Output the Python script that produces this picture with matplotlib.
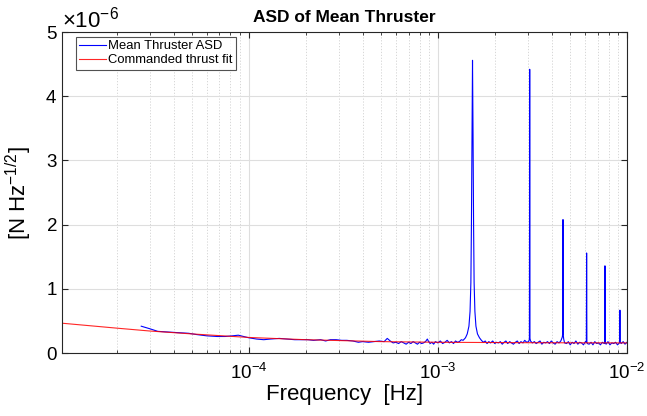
import numpy as np
import matplotlib
matplotlib.use("Agg")
import matplotlib.pyplot as plt
from matplotlib.ticker import LogLocator, NullFormatter, FixedLocator, ScalarFormatter

plt.rcParams['font.family'] = ['Liberation Sans', 'DejaVu Sans']
plt.rcParams['mathtext.fontset'] = 'custom'
plt.rcParams['mathtext.rm'] = 'Liberation Sans'
plt.rcParams['mathtext.it'] = 'Liberation Sans:italic'

# ---- data (ASD in units of 1e-6 N/sqrt(Hz)) ----
low_f = [2.7e-5, 3.0e-5, 3.3e-5, 3.7e-5, 4.2e-5, 4.8e-5, 5.3e-5, 6.0e-5, 6.8e-5, 7.5e-5,
         8.2e-5, 8.8e-5, 9.4e-5, 1.0e-4, 1.1e-4, 1.2e-4, 1.3e-4, 1.45e-4, 1.6e-4, 1.75e-4,
         1.9e-4, 2.05e-4, 2.2e-4, 2.4e-4, 2.55e-4, 2.7e-4, 2.9e-4, 3.1e-4, 3.3e-4, 3.55e-4,
         3.8e-4, 4.0e-4, 4.3e-4, 4.6e-4, 4.9e-4, 5.2e-4, 5.4e-4, 5.6e-4, 5.8e-4]
low_asd = [0.42, 0.38, 0.34, 0.33, 0.32, 0.31, 0.29, 0.27, 0.26, 0.26,
           0.27, 0.28, 0.26, 0.24, 0.22, 0.21, 0.22, 0.23, 0.22, 0.21,
           0.21, 0.21, 0.20, 0.21, 0.19, 0.21, 0.21, 0.20, 0.20, 0.19,
           0.17, 0.18, 0.17, 0.18, 0.19, 0.18, 0.23, 0.19, 0.16]

mid_f = [6.0e-4, 6.2e-4, 6.4e-4, 6.6e-4, 6.8e-4, 7.0e-4, 7.2e-4, 7.4e-4, 7.6e-4, 7.8e-4,
         8.0e-4, 8.2e-4, 8.4e-4, 8.6e-4, 8.8e-4, 8.9e-4, 9.1e-4, 9.3e-4, 9.5e-4, 9.7e-4,
         1.0e-3, 1.03e-3, 1.06e-3, 1.09e-3, 1.12e-3, 1.15e-3, 1.18e-3, 1.21e-3, 1.24e-3, 1.27e-3,
         1.30e-3, 1.33e-3]
mid_asd = [0.17, 0.15, 0.18, 0.16, 0.14, 0.17, 0.15, 0.18, 0.16, 0.14,
           0.17, 0.15, 0.16, 0.18, 0.22, 0.19, 0.15, 0.17, 0.14, 0.18,
           0.16, 0.19, 0.15, 0.17, 0.20, 0.16, 0.18, 0.15, 0.19, 0.17,
           0.18, 0.21]

peak1_f = [1.36e-3, 1.40e-3, 1.43e-3, 1.46e-3, 1.48e-3, 1.495e-3, 1.505e-3, 1.515e-3,
           1.525e-3, 1.535e-3, 1.545e-3, 1.555e-3, 1.57e-3, 1.59e-3, 1.62e-3, 1.66e-3]
peak1_asd = [0.20, 0.24, 0.30, 0.42, 0.65, 1.10, 2.00, 3.40,
             4.56, 3.40, 2.00, 1.10, 0.65, 0.42, 0.30, 0.24]

high_f = [1.70e-3, 1.74e-3, 1.78e-3, 1.82e-3, 1.86e-3, 1.90e-3, 1.95e-3, 2.00e-3, 2.04e-3, 2.09e-3,
          2.14e-3, 2.19e-3, 2.24e-3, 2.29e-3, 2.34e-3, 2.40e-3, 2.45e-3, 2.51e-3, 2.57e-3, 2.63e-3,
          2.69e-3, 2.75e-3, 2.82e-3, 2.88e-3, 2.95e-3, 3.02e-3, 3.05e-3, 3.07e-3, 3.09e-3, 3.16e-3,
          3.24e-3, 3.31e-3, 3.39e-3, 3.47e-3, 3.55e-3, 3.63e-3, 3.72e-3, 3.80e-3, 3.89e-3, 3.98e-3,
          4.07e-3, 4.17e-3, 4.27e-3, 4.37e-3, 4.47e-3, 4.55e-3, 4.575e-3, 4.605e-3, 4.63e-3, 4.68e-3,
          4.79e-3, 4.90e-3, 5.01e-3, 5.13e-3, 5.25e-3, 5.37e-3, 5.50e-3, 5.62e-3, 5.75e-3, 5.89e-3,
          6.03e-3, 6.10e-3, 6.14e-3, 6.17e-3, 6.31e-3, 6.46e-3, 6.61e-3, 6.76e-3, 6.92e-3, 7.08e-3,
          7.24e-3, 7.41e-3, 7.59e-3, 7.63e-3, 7.67e-3, 7.76e-3, 7.94e-3, 8.13e-3, 8.32e-3, 8.51e-3,
          8.71e-3, 8.91e-3, 9.12e-3, 9.16e-3, 9.20e-3, 9.33e-3, 9.55e-3, 9.77e-3, 1.0e-2]
high_asd = [0.20, 0.17, 0.19, 0.15, 0.18, 0.16, 0.19, 0.15, 0.17, 0.16,
            0.18, 0.14, 0.17, 0.19, 0.15, 0.18, 0.16, 0.14, 0.17, 0.19,
            0.15, 0.18, 0.16, 0.20, 0.17, 0.18, 0.22, 0.23, 0.19, 0.16,
            0.18, 0.15, 0.17, 0.19, 0.14, 0.17, 0.16, 0.18, 0.15, 0.19,
            0.16, 0.14, 0.18, 0.16, 0.19, 0.25, 0.30, 0.28, 0.22, 0.16,
            0.15, 0.18, 0.13, 0.17, 0.15, 0.19, 0.14, 0.17, 0.16, 0.13,
            0.18, 0.17, 0.18, 0.15, 0.14, 0.17, 0.13, 0.18, 0.15, 0.16,
            0.13, 0.17, 0.15, 0.17, 0.16, 0.14, 0.18, 0.13, 0.16, 0.15,
            0.17, 0.13, 0.16, 0.18, 0.17, 0.15, 0.18, 0.14, 0.17]

# sharp harmonic lines
lines_f = [3.06e-3, 4.59e-3, 6.12e-3, 7.65e-3, 9.18e-3]
lines_asd = [4.42, 2.08, 1.56, 1.36, 0.67]

# commanded thrust fit
fit_f = [1.0e-5, 2.0e-5, 3.0e-5, 5.0e-5, 1.0e-4, 2.0e-4, 5.0e-4, 1.0e-3, 3.0e-3, 1.0e-2]
fit_asd = [0.47, 0.39, 0.345, 0.30, 0.245, 0.21, 0.18, 0.17, 0.163, 0.16]

# ---- assemble ----
f_all = np.array(low_f + mid_f + peak1_f + high_f + lines_f)
a_all = np.array(low_asd + mid_asd + peak1_asd + high_asd + lines_asd)
order = np.argsort(f_all)
f_all = f_all[order]
a_all = a_all[order] * 1e-6

fig = plt.figure(figsize=(6.47, 4.16), dpi=100)
ax = fig.add_axes([0.096, 0.151, 0.873, 0.772])

ax.semilogx(f_all, a_all, color=(0, 0, 1), lw=0.8, label='Mean Thruster ASD')
ax.semilogx(fit_f, np.array(fit_asd) * 1e-6, color=(1, 0, 0), lw=0.8, alpha=0.85,
            label='Commanded thrust fit')

ax.set_xlim(1.03e-5, 1e-2)
ax.set_ylim(0, 5e-6)
ax.set_yticks(np.arange(0, 6) * 1e-6)
fmt = ScalarFormatter(useMathText=True)
fmt.set_powerlimits((-3, 3))
ax.yaxis.set_major_formatter(fmt)
ax.xaxis.set_major_locator(FixedLocator([1e-4, 1e-3, 1e-2]))
ax.xaxis.set_minor_locator(LogLocator(base=10, subs=np.arange(2, 10), numticks=20))
ax.xaxis.set_minor_formatter(NullFormatter())

ax.grid(True, which='major', color='0.87', lw=0.8, ls='-')
ax.grid(True, which='minor', axis='x', color='0.82', lw=0.6, ls=(0, (1.5, 2)))
ax.set_axisbelow(True)

ax.tick_params(which='both', direction='in', top=True, right=True, colors='0.15',
               labelcolor='black')
ax.tick_params(which='major', length=4, labelsize=13.5)
ax.tick_params(axis='x', which='major', pad=7)
ax.tick_params(which='minor', length=2.5)
for s in ax.spines.values():
    s.set_color('0.15')
    s.set_linewidth(0.8)

ax.yaxis.get_offset_text().set_fontsize(16)

ax.set_title('ASD of Mean Thruster', fontsize=12.5, fontweight='bold', pad=7)
ax.set_xlabel('Frequency  [Hz]', fontsize=16, labelpad=1)
ax.set_ylabel(r'[N Hz$^{-1/2}$]', fontsize=16, labelpad=8)

leg = ax.legend(loc='upper left', bbox_to_anchor=(0.025, 0.985), fontsize=9.4,
                frameon=True, fancybox=False,
                edgecolor='0.15', borderpad=0.25, handlelength=2.0, handletextpad=0.2,
                labelspacing=0.15, borderaxespad=0.0)
leg.get_frame().set_linewidth(0.8)

fig.savefig('out.png', dpi=100)
